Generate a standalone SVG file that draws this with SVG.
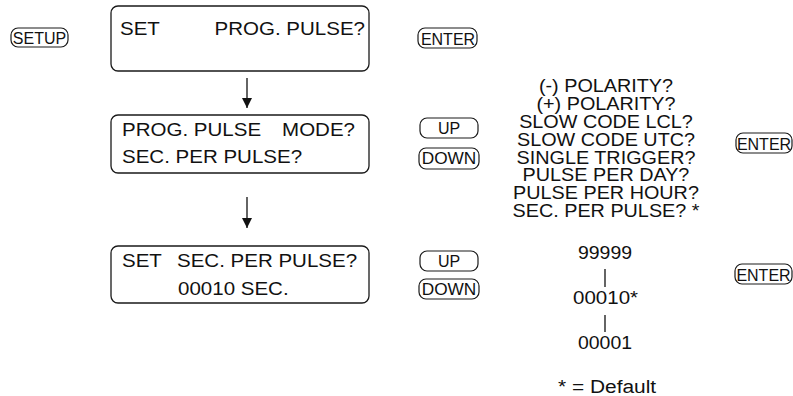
<svg xmlns="http://www.w3.org/2000/svg" width="793" height="396" viewBox="0 0 793 396">
<defs>
<style>
.box{fill:none;stroke:#1a1a1a;stroke-width:1.3}
.btn{fill:none;stroke:#1a1a1a;stroke-width:1.2}
text{font-family:"Liberation Sans",Arial,sans-serif;fill:#111}
.t{font-size:19px}
.l{font-size:18px;text-anchor:middle}
.b{font-size:16px;text-anchor:middle}
.ln{stroke:#111;stroke-width:1.3;fill:none}
</style>
<marker id="ah" viewBox="0 0 10 10" refX="10" refY="5" markerWidth="10" markerHeight="10" markerUnits="userSpaceOnUse" orient="auto">
<path d="M0,0 L10,5 L0,10 Z" fill="#111"/>
</marker>
</defs>
<rect width="793" height="396" fill="#fff"/>

<g id="setup-btn">
<rect class="btn" x="11" y="28" width="57" height="19" rx="7"/>
<text class="b" x="39.5" y="44">SETUP</text>
</g>

<g id="box1">
<rect class="box" x="111" y="6" width="258" height="65" rx="7"/>
<text class="t" transform="translate(120,35) scale(1.08,1)">SET</text>
<text class="t" text-anchor="end" transform="translate(365,35) scale(1.08,1)">PROG. PULSE?</text>
</g>

<g id="enter1">
<rect class="btn" x="418" y="28" width="59" height="20" rx="7"/>
<text class="b" x="448" y="45">ENTER</text>
</g>

<g id="box2">
<rect class="box" x="111" y="115" width="258" height="58" rx="7"/>
<text class="t" transform="translate(122,136) scale(1.08,1)">PROG. PULSE</text>
<text class="t" text-anchor="end" transform="translate(355,136) scale(1.08,1)">MODE?</text>
<text class="t" transform="translate(122,163) scale(1.08,1)">SEC. PER PULSE?</text>
</g>

<g id="up1">
<rect class="btn" x="420" y="118" width="58" height="20" rx="7"/>
<text class="b" x="449" y="134" font-size="15">UP</text>
</g>
<g id="down1">
<rect class="btn" x="419" y="148" width="60" height="21" rx="7"/>
<text class="b" transform="translate(449,164) scale(1.08,1)">DOWN</text>
</g>

<g id="modes">
<g transform="translate(606,0) scale(1.1,1)">
<text class="l" x="0" y="92.5">(-) POLARITY?</text>
<text class="l" x="0" y="110.3">(+) POLARITY?</text>
<text class="l" x="0" y="128.1">SLOW CODE LCL?</text>
<text class="l" x="0" y="145.9">SLOW CODE UTC?</text>
<text class="l" x="0" y="163.7">SINGLE TRIGGER?</text>
<text class="l" x="0" y="181.5">PULSE PER DAY?</text>
<text class="l" x="0" y="199.3">PULSE PER HOUR?</text>
<text class="l" x="0" y="217.1">SEC. PER PULSE? *</text>
</g>
</g>

<g id="enter2">
<rect class="btn" x="736" y="133" width="56" height="20" rx="7"/>
<text class="b" x="764" y="150">ENTER</text>
</g>

<g id="box3">
<rect class="box" x="111" y="246" width="258" height="57" rx="7"/>
<text class="t" transform="translate(122,267) scale(1.08,1)">SET</text>
<text class="t" transform="translate(177,267) scale(1.08,1)">SEC. PER PULSE?</text>
<text class="t" transform="translate(178,295) scale(1.08,1)">00010 SEC.</text>
</g>

<g id="up2">
<rect class="btn" x="420" y="251" width="58" height="20" rx="7"/>
<text class="b" x="449" y="267" font-size="15">UP</text>
</g>
<g id="down2">
<rect class="btn" x="419" y="279" width="60" height="20" rx="7"/>
<text class="b" transform="translate(449,295) scale(1.08,1)">DOWN</text>
</g>

<g id="values">
<text class="l" transform="translate(605,259) scale(1.08,1)">99999</text>
<text class="t" font-size="18" transform="translate(573,304) scale(1.08,1)">00010*</text>
<text class="l" transform="translate(605,349) scale(1.08,1)">00001</text>
<text class="t" font-size="18" transform="translate(558,393) scale(1.1,1)">* = Default</text>
</g>

<g id="enter3">
<rect class="btn" x="735" y="264" width="57" height="20" rx="7"/>
<text class="b" x="763.5" y="281">ENTER</text>
</g>

<g id="connectors">
<line class="ln" x1="247" y1="78" x2="247" y2="108" marker-end="url(#ah)"/>
<line class="ln" x1="247" y1="197" x2="247" y2="228" marker-end="url(#ah)"/>
<line class="ln" x1="605" y1="269" x2="605" y2="287"/>
<line class="ln" x1="605" y1="315" x2="605" y2="332"/>
</g>
</svg>
